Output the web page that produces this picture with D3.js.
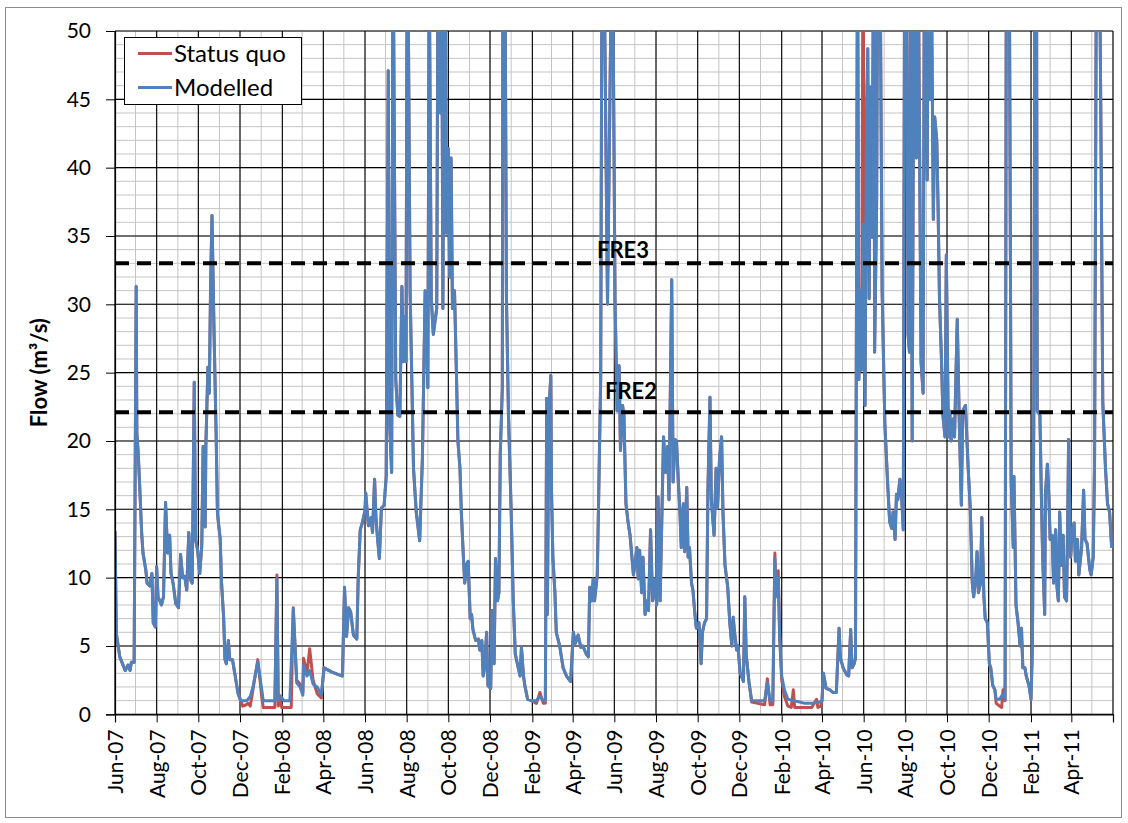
<!DOCTYPE html>
<html>
<head>
<meta charset="utf-8">
<script src="https://cdn.jsdelivr.net/npm/d3@7"></script>
<style>
  body { margin: 0; background: #fff; }
  svg { display: block; font-family: Lato, "DejaVu Sans", sans-serif; }
</style>
</head>
<body>
<svg id="chart" width="1128" height="823"></svg>
<script>
// Daily flow record, 1 Jun 2007 to 31 May 2011.
// Days are counted from the series start date; flows in m3/s.
const seriesStart = "2007-06-01";
const axisEnd = "2011-06-01";

const modelledDays = [
  0, 2, 7, 15, 19, 22, 24, 28, 31, 32, 34, 37, 39, 41, 45, 47, 51, 54, 56, 59,
  61, 63, 68, 71, 74, 77, 80, 82, 85, 89, 93, 96, 99, 102, 105, 108, 111, 113, 116, 118,
  121, 124, 127, 129, 132, 133, 136, 138, 140, 142, 145, 148, 150, 154, 156, 159, 161, 163, 166, 168,
  172, 176, 180, 184, 193, 198, 202, 209, 215, 217, 234, 237, 239, 243, 247, 256,
  261, 266, 271, 275, 276, 281, 285, 290, 296, 302, 306, 317, 327, 333, 336, 339, 342, 345, 349, 354,
  356, 359, 362, 366, 367, 371, 375, 377, 380, 382, 384, 387, 390, 394, 397, 400, 402, 405, 407, 411,
  414, 417, 420, 422, 424, 426, 428, 432, 437, 441, 446, 450, 454, 458, 460, 463, 466, 471, 473, 476,
  478, 480, 483, 485, 488, 490, 492, 494, 497, 500, 502, 505, 507, 510, 512, 515, 517, 520, 522, 524,
  528, 532, 534, 537, 539, 541, 544, 546, 550, 552, 555, 557, 560, 562, 564, 567, 568, 571, 573, 576,
  580, 583, 586, 589, 593, 595, 598, 600, 604, 610, 617, 622, 627, 630, 632, 633, 635, 638, 639, 641,
  644, 646, 651, 656, 661, 667, 671, 674, 678, 682, 685, 690, 693, 695, 698, 700, 702, 706, 708, 711,
  713, 716, 721, 728, 732, 735, 738, 740, 743, 745, 748, 751, 754, 759, 761, 764, 766, 768, 771, 773,
  776, 778, 781, 784, 787, 790, 793, 795, 798, 800, 803, 806, 809, 811, 815, 817, 820, 822, 825, 827,
  829, 832, 834, 837, 839, 841, 844, 846, 849, 851, 855, 858, 860, 863, 866, 868, 871, 873, 877, 880,
  882, 885, 888, 890, 893, 897, 900, 903, 905, 907, 910, 912, 915, 917, 920, 922, 924, 928, 932, 941,
  951, 955, 959, 963, 966, 968, 971, 973, 976, 980, 985, 993, 1002, 1010, 1020, 1032, 1035, 1037, 1041, 1046,
  1051, 1056, 1060, 1062, 1066, 1071, 1074, 1077, 1079, 1082, 1084, 1087, 1089, 1091, 1093, 1095, 1098, 1100, 1102, 1104,
  1106, 1108, 1111, 1112, 1115, 1117, 1120, 1123, 1127, 1131, 1134, 1137, 1139, 1142, 1144, 1146, 1149, 1151, 1154, 1156,
  1159, 1161, 1163, 1165, 1167, 1170, 1173, 1176, 1180, 1183, 1185, 1189, 1191, 1193, 1195, 1198, 1200, 1203, 1205, 1207,
  1210, 1212, 1215, 1217, 1220, 1222, 1224, 1227, 1229, 1233, 1236, 1239, 1241, 1245, 1249, 1252, 1255, 1257, 1260, 1262,
  1264, 1267, 1269, 1272, 1274, 1277, 1280, 1282, 1285, 1288, 1290, 1295, 1300, 1303, 1305, 1309, 1312, 1315, 1316, 1319,
  1322, 1325, 1327, 1329, 1332, 1334, 1338, 1341, 1343, 1345, 1347, 1349, 1350, 1354, 1356, 1358, 1361, 1362, 1365, 1367,
  1369, 1372, 1374, 1377, 1379, 1381, 1383, 1385, 1388, 1390, 1393, 1395, 1396, 1399, 1401, 1404, 1406, 1409, 1411, 1415,
  1418, 1420, 1423, 1427, 1429, 1432, 1434, 1437, 1441, 1443, 1446, 1450, 1453, 1456, 1459
];

const modelledFlow = [
  13.4, 5.9, 4.2, 3.2, 3.6, 3.2, 3.8, 3.8, 31.3, 20.6, 19.1, 15.7, 13.3, 11.8, 10.6, 9.6, 9.4, 10.3, 6.7, 6.4,
  10.8, 8.6, 8.0, 8.6, 15.5, 11.8, 13.1, 10.3, 9.6, 8.1, 7.8, 11.7, 10.0, 10.1, 9.1, 13.3, 9.8, 9.6, 24.3, 12.8,
  12.0, 10.3, 12.3, 19.6, 13.7, 19.6, 25.4, 23.5, 31.6, 36.5, 27.9, 20.6, 14.7, 12.8, 9.6, 7.1, 4.0, 3.7, 5.4, 4.0,
  4.0, 2.8, 1.55, 1.0, 1.0, 1.3, 2.0, 3.85, 1.75, 1.0, 1.0, 9.9, 1.0, 1.3, 1.0, 1.0,
  7.7, 2.3, 2.0, 1.4, 3.6, 2.8, 3.2, 2.2, 2.0, 1.4, 3.4, 3.1, 2.9, 2.8, 9.3, 5.7, 7.8, 7.5, 5.8, 5.5,
  9.9, 13.5, 14.0, 14.9, 16.2, 13.8, 14.4, 13.3, 17.2, 14.4, 13.1, 11.4, 15.1, 15.3, 17.4, 47.1, 21.3, 17.7, 58, 24.5,
  21.9, 21.8, 31.3, 25.8, 29.1, 25.8, 62, 31.0, 18.0, 14.8, 12.7, 18.7, 31.0, 23.9, 55, 30.4, 27.8, 29.7, 58, 44,
  60, 29.7, 65, 35.2, 41.4, 32.0, 40.7, 29.7, 31.0, 24.5, 20.0, 18.0, 14.8, 11.5, 9.6, 11.0, 11.2, 7.0, 7.3, 6.2,
  5.4, 5.5, 4.7, 5.4, 2.8, 3.4, 6.0, 2.1, 1.9, 7.6, 3.7, 11.4, 8.3, 8.9, 19.0, 23.9, 60, 55, 30.7, 21.9,
  14.8, 8.3, 4.4, 3.7, 2.8, 4.9, 2.8, 2.1, 1.1, 1.0, 1.0, 1.3, 1.0, 1.0, 23.1, 7.3, 21.9, 24.8, 16.4, 11.5,
  8.9, 6.0, 5.0, 3.4, 2.8, 2.4, 6.0, 5.2, 5.8, 4.9, 5.0, 4.4, 4.2, 9.3, 8.3, 9.9, 8.3, 10.2, 15.7, 24.5,
  58, 55, 30, 60, 30.4, 22.2, 25.5, 19.3, 22.6, 21.9, 15.4, 14.1, 13.1, 10.2, 10.9, 12.2, 9.9, 12.0, 8.9, 11.5,
  7.3, 8.3, 7.6, 13.5, 8.3, 9.9, 8.0, 15.9, 8.3, 13.1, 20.3, 17.7, 19.6, 15.7, 31.8, 17.0, 20.1, 20.0, 16.7, 14.8,
  12.2, 15.4, 11.9, 16.6, 11.5, 12.2, 9.6, 9.1, 7.3, 6.3, 6.7, 3.7, 6.0, 6.7, 7.0, 16.4, 23.2, 15.7, 13.1, 18.0,
  15.1, 18.7, 20.3, 14.8, 10.9, 9.3, 6.7, 5.0, 7.1, 6.0, 4.7, 5.0, 3.1, 2.8, 2.4, 8.6, 4.4, 2.4, 1.0, 1.0,
  1.0, 2.3, 1.0, 1.0, 11.4, 8.6, 10.0, 5.7, 2.8, 1.8, 1.1, 1.0, 0.9, 0.8, 0.8, 0.9, 1.0, 3.0, 1.9, 1.8,
  1.6, 1.6, 6.3, 4.1, 3.4, 2.9, 2.8, 6.2, 3.4, 3.7, 4.1, 58, 24.5, 31.0, 25.2, 35.9, 22.6, 42.4, 48.7, 30.4,
  45.9, 34.9, 60, 26.5, 37.5, 62, 56, 31.0, 21.3, 17.0, 14.1, 13.6, 14.8, 12.8, 16.1, 15.7, 17.2, 16.4, 13.5, 58,
  55, 27.8, 26.5, 57, 20.0, 60, 40.7, 55, 25.8, 23.5, 58, 39.1, 60, 45.0, 55, 36.2, 43.7, 42.0, 36.9, 30.4,
  25.8, 21.9, 20.3, 33.6, 20.3, 22.2, 20.0, 21.6, 20.3, 28.9, 21.3, 15.3, 22.2, 22.6, 18.0, 15.1, 9.6, 8.6, 9.9, 11.9,
  8.9, 9.6, 14.4, 8.6, 7.0, 6.7, 3.7, 3.4, 2.1, 1.8, 1.1, 1.1, 1.5, 1.1, 60, 58, 17.0, 12.2, 17.4, 8.0,
  6.7, 5.0, 6.3, 3.4, 3.4, 2.8, 2.1, 1.1, 5.0, 21.3, 60, 58, 22.2, 21.9, 16.4, 11.5, 7.3, 16.1, 18.3, 16.1,
  12.8, 13.1, 9.6, 13.5, 9.3, 8.3, 14.8, 10.9, 13.1, 8.6, 8.3, 15.4, 20.1, 11.5, 13.1, 14.0, 11.2, 12.8, 10.2, 12.2,
  16.4, 12.8, 12.5, 10.6, 10.2, 11.5, 18.3, 60, 58, 45, 22.9, 18.0, 15.4, 14.8, 12.2
];

// Status quo follows the modelled record except inside these day windows,
// where its own readings below apply.
const statusQuoWindows = [[184, 306], [617, 630], [932, 1035], [1095, 1095], [1290, 1303]];
const statusQuoDays = [
  184, 187, 192, 195, 198, 201, 209, 215, 217, 234, 237, 239, 241, 244, 258, 261, 266, 271, 275, 276,
  281, 285, 290, 296, 302, 306,
  617, 622, 627, 630,
  932, 941, 951, 955, 959, 963, 966, 968, 971, 973, 976, 980, 985, 990, 993, 995, 1010, 1020, 1027, 1029,
  1033, 1035,
  1095,
  1290, 1295, 1298, 1300, 1303
];
const statusQuoFlow = [
  1.0, 0.6, 0.7, 0.8, 0.6, 1.5, 4.0, 1.2, 0.5, 0.5, 10.2, 0.6, 1.4, 0.5, 0.5, 7.8, 2.5, 2.2, 1.6, 4.1,
  3.0, 4.8, 2.5, 1.5, 1.2, 3.4,
  0.8, 1.6, 0.8, 0.8,
  0.9, 0.8, 0.7, 2.6, 0.7, 0.7, 11.8, 8.8, 10.5, 5.7, 2.5, 1.3, 0.6, 0.5, 1.8, 0.5, 0.5, 0.5, 1.1, 0.5,
  0.6, 1.0,
  58,
  0.8, 0.6, 0.5, 1.8, 1.0
];

// Flow event thresholds
const thresholdNames = ["FRE3", "FRE2"];
const thresholdFlow = [33, 22.1];

const yTicks = d3.range(0, 51, 5);
const legendNames = ["Status quo", "Modelled"];
const seriesColors = ["#C0504D", "#4F81BD"];

// ---------------------------------------------------------------
const svg = d3.select("#chart");
const W = 1128, H = 823;
const plot = { left: 115, right: 1113, top: 31, bottom: 714.3 };

const start = d3.utcParse("%Y-%m-%d")(seriesStart);
const end = d3.utcParse("%Y-%m-%d")(axisEnd);
const toDate = d => d3.utcDay.offset(start, d);

const x = d3.scaleUtc().domain([start, end]).range([plot.left, plot.right]);
const y = d3.scaleLinear().domain([0, 50]).range([plot.bottom, plot.top]);

const modelled = modelledDays.map((d, i) => ({ day: d, flow: modelledFlow[i] }));
const inWindow = d => statusQuoWindows.some(([a, b]) => d >= a && d <= b);
const statusQuo = modelled.filter(p => !inWindow(p.day))
  .concat(statusQuoDays.map((d, i) => ({ day: d, flow: statusQuoFlow[i] })))
  .sort((a, b) => a.day - b.day);

// chart frame
svg.append("rect").attr("width", W).attr("height", H).attr("fill", "#fff");
svg.append("rect")
  .attr("x", 5.5).attr("y", 7.5).attr("width", 1116).attr("height", 810)
  .attr("fill", "none").attr("stroke", "#8c8c8c").attr("stroke-width", 1);

// minor gridlines
const monthTicks = d3.utcMonth.range(start, d3.utcDay.offset(end, 1));
const grid = svg.append("g");
grid.selectAll(".vminor").data(monthTicks).join("line")
  .attr("x1", d => x(d)).attr("x2", d => x(d))
  .attr("y1", plot.top).attr("y2", plot.bottom)
  .attr("stroke", "#c4c4c4").attr("stroke-width", 1);
grid.selectAll(".hminor").data(d3.range(0, 51, 1)).join("line")
  .attr("x1", plot.left).attr("x2", plot.right)
  .attr("y1", d => y(d)).attr("y2", d => y(d))
  .attr("stroke", "#c4c4c4").attr("stroke-width", 1);

// major gridlines
const majorTicks = d3.utcMonth.range(start, d3.utcDay.offset(end, 1), 2);
grid.selectAll(".vmajor").data(majorTicks).join("line")
  .attr("x1", d => x(d)).attr("x2", d => x(d))
  .attr("y1", plot.top).attr("y2", plot.bottom)
  .attr("stroke", "#000").attr("stroke-width", 1.1);
grid.selectAll(".hmajor").data(yTicks).join("line")
  .attr("x1", plot.left).attr("x2", plot.right)
  .attr("y1", d => y(d)).attr("y2", d => y(d))
  .attr("stroke", "#000").attr("stroke-width", 1.1);

// series
svg.append("clipPath").attr("id", "plotClip").append("rect")
  .attr("x", plot.left).attr("y", plot.top)
  .attr("width", plot.right - plot.left).attr("height", plot.bottom - plot.top);

const line = d3.line().x(d => x(toDate(d.day))).y(d => y(d.flow));
const series = svg.append("g").attr("clip-path", "url(#plotClip)");
series.append("path").datum(statusQuo).attr("d", line)
  .attr("fill", "none").attr("stroke", seriesColors[0])
  .attr("stroke-width", 3).attr("stroke-linejoin", "round");
series.append("path").datum(modelled).attr("d", line)
  .attr("fill", "none").attr("stroke", seriesColors[1])
  .attr("stroke-width", 3).attr("stroke-linejoin", "round");

// threshold lines
const thr = svg.append("g");
thr.selectAll("line").data(thresholdFlow).join("line")
  .attr("x1", plot.left).attr("x2", plot.right)
  .attr("y1", d => y(d)).attr("y2", d => y(d))
  .attr("stroke", "#000").attr("stroke-width", 4)
  .attr("stroke-dasharray", "14 8");
const thrLabelPos = [{ x: 597, y: 258 }, { x: 605, y: 399 }];
thr.selectAll("text").data(thresholdNames).join("text")
  .attr("x", (d, i) => thrLabelPos[i].x).attr("y", (d, i) => thrLabelPos[i].y)
  .attr("font-size", 22).attr("font-weight", 700).attr("fill", "#000")
  .text(d => d);

// y axis
const yAxis = svg.append("g").attr("transform", `translate(${plot.left},0)`)
  .call(d3.axisLeft(y).tickValues(yTicks).tickSize(9).tickPadding(15).tickFormat(d3.format("d")));
yAxis.select(".domain").attr("stroke", "#000").attr("stroke-width", 1.2);
yAxis.selectAll(".tick line").attr("stroke", "#000");
yAxis.selectAll("text").attr("font-size", 21).attr("fill", "#000")
  .attr("font-family", "Lato, sans-serif");

// x axis
const fmt = d3.utcFormat("%b-%y");
const xAxis = svg.append("g").attr("transform", `translate(0,${plot.bottom})`)
  .call(d3.axisBottom(x).tickValues(majorTicks).tickSize(8)
    .tickFormat(d => +d === +end ? "" : fmt(d)));
xAxis.select(".domain").attr("stroke", "#000").attr("stroke-width", 1.2);
xAxis.selectAll(".tick line").attr("stroke", "#000");
xAxis.selectAll("text")
  .attr("font-size", 21).attr("fill", "#000").attr("font-family", "Lato, sans-serif")
  .attr("text-anchor", "end")
  .attr("transform", "rotate(-90)")
  .attr("x", -15).attr("y", 0).attr("dy", "0.36em");

// y axis title
svg.append("text")
  .attr("transform", `translate(47,${(plot.top + plot.bottom) / 2}) rotate(-90)`)
  .attr("text-anchor", "middle").attr("font-size", 22).attr("font-weight", 700)
  .attr("fill", "#000")
  .text("Flow (m³/s)");

// legend
const legend = svg.append("g");
legend.append("rect").attr("x", 124.5).attr("y", 37.5).attr("width", 177).attr("height", 67)
  .attr("fill", "#fff").attr("stroke", "#000").attr("stroke-width", 1);
const rows = legend.selectAll(".row").data(legendNames).join("g")
  .attr("transform", (d, i) => `translate(0,${53.5 + i * 34})`);
rows.append("line").attr("x1", 138).attr("x2", 172).attr("y1", 0).attr("y2", 0)
  .attr("stroke", (d, i) => seriesColors[i]).attr("stroke-width", 3);
rows.append("text").attr("x", 174).attr("y", 8.5)
  .attr("font-size", 24).attr("fill", "#000").text(d => d);
</script>
</body>
</html>
